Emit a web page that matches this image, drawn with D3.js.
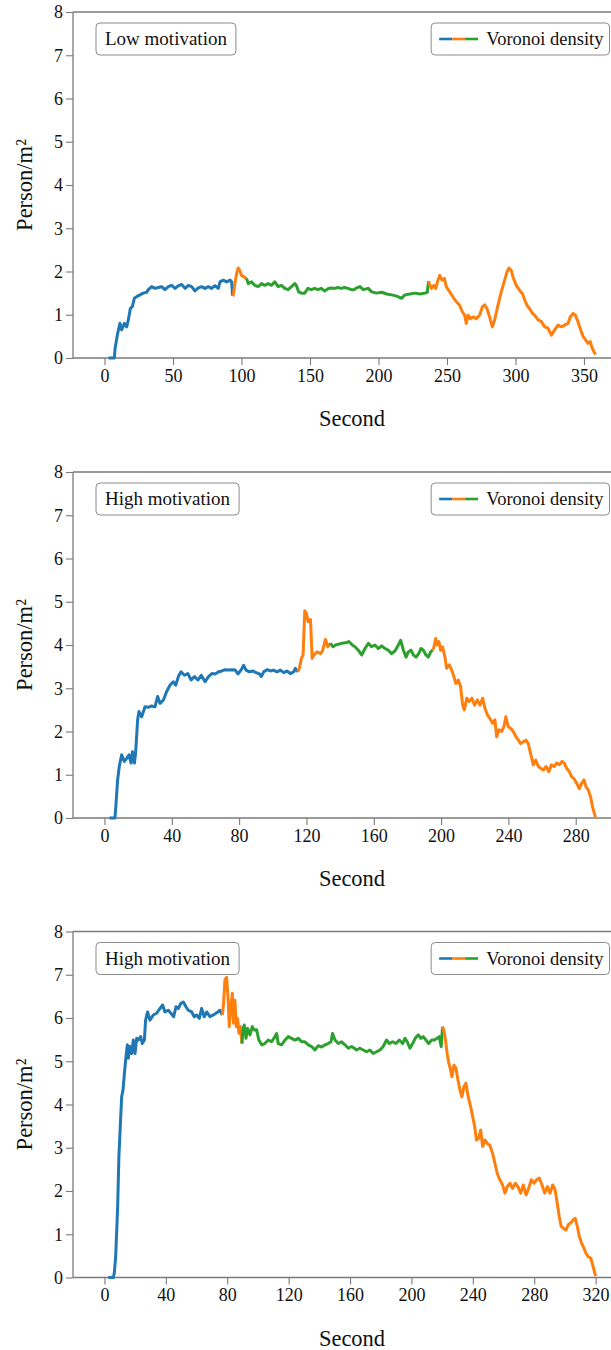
<!DOCTYPE html>
<html><head><meta charset="utf-8">
<script src="https://cdn.jsdelivr.net/npm/d3@7"></script>
<style>
body{margin:0;background:#fff}
svg{display:block}
svg text{font-family:'Liberation Serif','Times New Roman','DejaVu Serif',serif !important;fill:#111}
</style>
</head><body>
<svg id="chart" width="611" height="1350"></svg>
<script>
// ---------- data ----------
const phaseColors = ["#1f77b4", "#ff7f0e", "#2ca02c", "#ff7f0e"];
const panelTitles = ["Low motivation", "High motivation", "High motivation"];
const legendLabel = "Voronoi density";
const yTicks = [0, 1, 2, 3, 4, 5, 6, 7, 8];
const xTicksLow = [0, 50, 100, 150, 200, 250, 300, 350];
const xTicksHigh1 = [0, 40, 80, 120, 160, 200, 240, 280];
const xTicksHigh2 = [0, 40, 80, 120, 160, 200, 240, 280, 320];

// Panel 1: low motivation
const timeLow = [3,7.2,7.7,9.6,11.3,12.5,14.5,16.2,17.4,18.9,20.3,21.8,23.5,25.9,28.3,30.8,32,34.4,36.9,39.3,41.7,44.1,46.6,49,51.5,53.9,56.3,58.8,61.2,63.6,66,68.5,70.9,73.3,75.8,78.2,80.6,83.1,84.3,86.7,89.2,91.6,92.8,93.5,
 94,95.2,96.4,97.6,98.8,100,102,103.7,
 104.9,107.3,109.7,112.2,114.6,117,119.5,121.9,124.3,126.8,129.2,131.6,134,136.5,138.9,140,141.7,143.7,146.1,148.5,150.9,153.4,155.8,158.2,160.7,163.1,165.5,168,170.4,172.8,175.3,177.7,180.1,182,184,186.5,188.9,192.5,195,198.6,202.3,206,209.6,213.3,216.9,219.3,223,226.6,230.3,233.9,235.6,236.6,
 237,238.7,240.4,241.8,243,244.7,246.4,248.1,249.5,252,254.4,256.8,259.2,261.2,262.9,264.1,265.3,267,269,271.4,273.8,275.8,277.5,279.2,281.1,283.1,284.8,287.2,289.6,292.1,293.8,295.3,297,298.2,300.6,303.1,305,306.8,308.4,310.4,312.4,314,316.5,318.9,321.3,323.7,326.2,328.6,331,333.5,335.9,338.3,340,342,343.7,345.6,347.6,349.3,351.2,352.9,354.6,356,357.2,358.5];
const densityLow = [0,0,0.22,0.57,0.80,0.65,0.80,0.72,0.88,1.15,1.19,1.38,1.42,1.46,1.50,1.52,1.58,1.65,1.61,1.63,1.65,1.58,1.65,1.68,1.61,1.67,1.70,1.61,1.68,1.65,1.55,1.62,1.65,1.61,1.65,1.61,1.67,1.61,1.76,1.80,1.76,1.80,1.76,1.44,
 1.45,1.72,1.95,2.08,2.02,1.91,1.87,1.84,
 1.72,1.76,1.68,1.65,1.72,1.68,1.72,1.68,1.76,1.65,1.68,1.61,1.58,1.65,1.72,1.68,1.53,1.50,1.50,1.61,1.58,1.61,1.58,1.61,1.55,1.60,1.62,1.61,1.63,1.61,1.63,1.61,1.58,1.58,1.62,1.65,1.58,1.61,1.53,1.50,1.52,1.48,1.46,1.43,1.38,1.46,1.48,1.50,1.48,1.50,1.52,1.78,
 1.73,1.61,1.68,1.61,1.76,1.91,1.80,1.84,1.65,1.53,1.41,1.30,1.22,1.07,0.99,0.80,0.99,0.91,0.95,0.91,0.99,1.18,1.23,1.14,0.95,0.72,0.88,1.22,1.53,1.80,1.99,2.08,2.02,1.87,1.68,1.56,1.49,1.34,1.22,1.14,1.03,0.99,0.88,0.84,0.72,0.69,0.53,0.65,0.76,0.72,0.76,0.80,0.95,1.03,0.99,0.84,0.65,0.50,0.42,0.34,0.38,0.23,0.15,0.08];
const phaseEndsLow = [93.5, 103.7, 236.6];

// Panel 2: high motivation (a)
const timeHigh1 = [3,6.2,6.6,7.8,8.8,10.2,11.8,13.2,14.6,15.8,16.6,17.8,18.5,19.7,20.5,22.1,24.1,26.1,28,30,31.6,33,35,36.9,38.9,40.9,42.3,43.9,45.5,47.5,49.5,51.5,53.5,55.5,57.5,59.8,61.8,63.8,65.8,67.8,69.8,71.7,73.7,75.7,77.7,79.3,81.3,82.7,84.1,86.1,88.1,90.1,92.1,93.2,94.6,96.6,98.6,100.5,102.5,104.5,106.5,108.4,110.4,112.4,113.4,114.8,
 115.8,117,118,119,120,121,122.4,123.4,124.4,126.4,128.4,129.7,131.3,132.7,134.3,
 135.7,137.3,139.2,141.2,143.2,145.2,147.2,148.8,150.8,152.8,154.8,156.8,158.7,160.7,162.7,164.7,166.7,168.6,170.6,172.6,174.6,176,177.6,179.2,180.5,182.1,183.5,185.1,186.7,188.1,189.5,191,192.4,193.8,195,
 195.8,196.8,197.8,198.7,199.7,200.9,202.3,203.3,204.9,206.3,207.6,208.8,210.2,211.6,212.8,213.8,215.2,216.7,218.3,219.9,221.5,223.1,224.7,226.1,227.6,229,230.6,232,233,234.4,236,237.3,238.5,239.9,241.5,242.9,244.5,245.9,247.3,248.8,250.4,251.8,253.2,254.8,256.2,257.8,259.2,260.8,262.4,264,265.5,267.1,268.7,270.3,271.9,273.2,274.6,276.2,277.6,279,280.6,282.1,283.5,284.9,286.1,287.4,288.8,290,291,291.8];
const densityHigh1 = [0,0,0.18,0.88,1.19,1.46,1.31,1.38,1.46,1.27,1.53,1.27,1.50,2.27,2.46,2.34,2.57,2.56,2.59,2.57,2.81,2.65,2.73,2.92,3.07,3.15,3.07,3.27,3.38,3.30,3.34,3.19,3.27,3.19,3.30,3.15,3.27,3.34,3.33,3.38,3.40,3.43,3.42,3.43,3.42,3.33,3.43,3.53,3.42,3.38,3.40,3.36,3.33,3.27,3.38,3.43,3.40,3.42,3.38,3.42,3.36,3.40,3.34,3.38,3.46,3.38,
 3.46,3.69,3.77,4.79,4.73,4.54,4.59,3.69,3.77,3.84,3.80,3.88,4.13,3.96,4.04,
 3.96,4.00,4.02,4.04,4.05,4.08,4.00,3.96,3.88,3.77,3.92,4.04,3.96,4.00,3.92,3.98,3.92,3.88,3.80,3.86,4.00,4.11,3.88,3.72,3.84,3.88,3.77,3.72,3.80,3.92,3.88,3.77,3.72,3.84,3.88,
 3.96,4.15,4.00,4.08,3.88,3.96,3.72,3.46,3.54,3.42,3.27,3.11,3.19,3.04,2.61,2.50,2.77,2.69,2.77,2.61,2.73,2.61,2.77,2.53,2.38,2.30,2.19,2.27,1.88,2.04,2.00,2.11,2.34,2.11,2.07,2.00,1.88,1.80,1.72,1.76,1.80,1.72,1.49,1.23,1.34,1.19,1.15,1.11,1.19,1.07,1.23,1.19,1.27,1.23,1.31,1.27,1.15,1.07,0.95,0.91,0.80,0.68,0.80,0.88,0.72,0.65,0.49,0.26,0.11,0.02];
const phaseEndsHigh1 = [114.8, 134.3, 195];

// Panel 3: high motivation (b)
const timeHigh2 = [2.5,5.8,6.4,7.3,8.6,9.4,10.3,11.2,12.1,13,13.8,14.9,15.5,16.6,17.7,18.8,19.9,21,22,23.6,24.6,26,26.8,28.1,29.6,31.8,34,36.2,37.9,39.4,41.6,43.3,45.1,46.6,48.1,49.8,51.4,53.1,54.6,56.8,58.5,60,61.8,63.3,65,66.6,68.7,70.9,73.1,75.2,76.8,
 77.6,78.5,79.6,80.6,81.3,82.4,83.3,84.1,85,85.9,86.7,87.6,88.7,89.6,
 90.2,91.1,92.2,93.3,94.8,96.3,97.6,99.1,100.6,102.4,104.5,106.7,108.9,111.1,112.2,113.2,115.4,117.6,119.8,121.9,124.1,126.3,128.5,130.6,132.8,135,137.1,139.3,141.5,143.7,145.8,147.6,148.6,150.2,152.4,154.5,156.7,158.9,161,162.8,164.3,166.4,168.6,170.8,172.9,175.1,177.3,179.5,181.6,183.8,185.6,187.8,189.9,192.1,194.3,195.8,197.3,199,200.8,202.5,204.5,206.2,207.7,209.5,211.2,213.2,214.9,216.8,218.1,219.4,220.3,
 221.1,222.2,223.3,224.4,225.5,226.4,227.7,229,230.3,231.6,232.9,234.2,235.5,237,238.6,239.9,241.2,242.4,243.8,245.1,246.4,247.9,249.4,251.1,252.9,254.4,255.9,257.6,259.4,260.9,262.4,264.2,265.9,267.7,269.4,271.2,272.9,274.7,276.4,278.1,279.9,281.6,283.3,285.1,286.8,288.6,290.3,292.1,293.6,295,296.3,297.6,298.9,300.7,302.2,303.7,305.4,306.7,308.1,309.4,310.9,312.4,313.7,315.2,316.8,318.1,319.2,320];
const densityHigh2 = [0,0,0.10,0.48,1.64,2.79,3.49,4.18,4.34,4.72,5.03,5.38,5.07,5.34,5.18,5.49,5.18,5.53,5.49,5.57,5.41,5.49,5.95,6.14,5.95,6.07,6.11,6.22,6.30,6.14,6.18,6.11,6.03,6.26,6.22,6.34,6.37,6.26,6.18,6.14,6.03,6.07,5.99,6.22,6.03,6.14,6.03,6.07,6.12,6.18,6.07,
 6.34,6.88,6.94,6.41,5.80,6.26,6.57,5.88,6.41,5.80,5.99,5.65,5.80,5.41,
 5.72,5.84,5.53,5.76,5.61,5.80,5.72,5.73,5.49,5.38,5.41,5.49,5.45,5.57,5.64,5.41,5.38,5.49,5.57,5.53,5.49,5.53,5.45,5.45,5.38,5.34,5.26,5.36,5.33,5.38,5.41,5.45,5.64,5.49,5.41,5.45,5.38,5.30,5.34,5.30,5.26,5.30,5.26,5.22,5.26,5.18,5.22,5.26,5.34,5.49,5.41,5.45,5.41,5.49,5.41,5.53,5.45,5.30,5.41,5.53,5.61,5.53,5.57,5.49,5.41,5.49,5.49,5.53,5.57,5.34,5.80,
 5.72,5.49,5.18,4.95,4.80,4.64,4.91,4.84,4.57,4.34,4.18,4.41,4.49,4.18,3.95,3.72,3.49,3.18,3.22,3.41,3.03,3.18,3.10,3.06,2.87,2.64,2.41,2.26,2.14,1.95,2.10,2.18,2.06,2.18,2.10,1.95,2.14,1.91,2.06,2.26,2.18,2.26,2.30,2.14,1.95,2.10,1.95,2.14,2.03,1.72,1.41,1.18,1.14,1.10,1.22,1.26,1.33,1.37,1.18,0.95,0.79,0.68,0.56,0.48,0.45,0.29,0.14,0.03];
const phaseEndsHigh2 = [76.8, 89.6, 220.3];

// ---------- layout ----------
const FONT = "'Liberation Serif','Times New Roman','DejaVu Serif',serif";
const panels = [
  {title: panelTitles[0], t: timeLow,   d: densityLow,   ends: phaseEndsLow,   ticks: xTicksLow,   xDom: [-23, 376.3],  top: 12},
  {title: panelTitles[1], t: timeHigh1, d: densityHigh1, ends: phaseEndsHigh1, ticks: xTicksHigh1, xDom: [-18.7, 306.3], top: 472},
  {title: panelTitles[2], t: timeHigh2, d: densityHigh2, ends: phaseEndsHigh2, ticks: xTicksHigh2, xDom: [-20.5, 335.9], top: 931.5}
];
const left = 73, right = 620, plotH = 346;
const axisColor = "#7a7a7a";

const svg = d3.select("#chart").attr("font-family", FONT);

panels.forEach(p => {
  const g = svg.append("g");
  const x = d3.scaleLinear().domain(p.xDom).range([left, right]);
  const y = d3.scaleLinear().domain([0, 8]).range([p.top + plotH, p.top]);

  g.append("line").attr("x1", left).attr("x2", right).attr("y1", p.top).attr("y2", p.top)
    .attr("stroke", axisColor).attr("stroke-width", 1.3);
  g.append("line").attr("x1", right).attr("x2", right).attr("y1", p.top).attr("y2", p.top + plotH)
    .attr("stroke", axisColor).attr("stroke-width", 1.3);

  const xAxis = g.append("g").attr("transform", `translate(0,${p.top + plotH})`)
    .call(d3.axisBottom(x).tickValues(p.ticks).tickSize(7).tickPadding(4).tickFormat(d3.format("d")));
  const yAxis = g.append("g").attr("transform", `translate(${left},0)`)
    .call(d3.axisLeft(y).tickValues(yTicks).tickSize(7).tickPadding(3).tickFormat(d3.format("d")));
  [xAxis, yAxis].forEach(a => {
    a.attr("font-family", FONT).attr("font-size", 18);
    a.select(".domain").attr("stroke", axisColor).attr("stroke-width", 1.3);
    a.selectAll(".tick line").attr("stroke", axisColor).attr("stroke-width", 1.1);
    a.selectAll(".tick text").attr("font-size", 18).attr("fill", "#111").attr("font-family", FONT);
  });
  xAxis.select(".domain").attr("d", `M${left},0H${right}`);
  yAxis.select(".domain").attr("d", `M0,${p.top}V${p.top + plotH}`);

  g.append("text").attr("x", 352).attr("y", p.top + plotH + 68).attr("font-family", FONT)
    .attr("text-anchor", "middle").attr("font-size", 22.5).text("Second");
  g.append("text").attr("transform", `translate(32,${p.top + plotH / 2}) rotate(-90)`).attr("font-family", FONT)
    .attr("text-anchor", "middle").attr("font-size", 22.5).text("Person/m²");

  const pts = p.t.map((t, i) => ({t, v: p.d[i]}));
  const bounds = [-Infinity, ...p.ends, Infinity];
  const line = d3.line().x(d => x(d.t)).y(d => y(d.v));
  const clipId = "clip" + Math.round(p.top);
  g.append("clipPath").attr("id", clipId).append("rect")
    .attr("x", left).attr("y", p.top - 10).attr("width", right - left).attr("height", plotH + 12);
  const lines = g.append("g").attr("clip-path", `url(#${clipId})`);
  for (let k = 0; k < 4; k++) {
    const seg = pts.filter(d => d.t >= bounds[k] && d.t <= bounds[k + 1]);
    lines.append("path").datum(seg).attr("d", line)
      .attr("fill", "none").attr("stroke", phaseColors[k])
      .attr("stroke-width", 3).attr("stroke-linejoin", "round").attr("stroke-linecap", "butt");
  }

  const boxTop = p.top + 11, boxH = 32;
  const tl = g.append("g");
  const tlText = tl.append("text").attr("x", 105).attr("y", boxTop + boxH / 2 + 6).attr("font-family", FONT)
    .attr("font-size", 19).text(p.title);
  const tw = tlText.node().getComputedTextLength();
  tl.insert("rect", "text").attr("x", 96).attr("y", boxTop).attr("width", tw + 18).attr("height", boxH)
    .attr("rx", 4).attr("fill", "#fff").attr("stroke", "#8c8c8c").attr("stroke-width", 1);

  const lg = g.append("g");
  const lgText = lg.append("text").attr("font-size", 18.5).attr("font-family", FONT)
    .attr("y", boxTop + boxH / 2 + 6).text(legendLabel);
  const lw = lgText.node().getComputedTextLength();
  const boxRight = 609.5;
  const boxW = 8 + 39 + 8 + lw + 6;
  const boxLeft = boxRight - boxW;
  lgText.attr("x", boxLeft + 8 + 39 + 8);
  lg.insert("rect", "text").attr("x", boxLeft).attr("y", boxTop).attr("width", boxW).attr("height", boxH)
    .attr("rx", 4).attr("fill", "#fff").attr("stroke", "#8c8c8c").attr("stroke-width", 1);
  const ly = boxTop + boxH / 2;
  [0, 1, 2].forEach(i => {
    lg.append("line").attr("x1", boxLeft + 8 + i * 13).attr("x2", boxLeft + 8 + (i + 1) * 13)
      .attr("y1", ly).attr("y2", ly).attr("stroke", phaseColors[i]).attr("stroke-width", 2.6);
  });
});
</script>
</body></html>
